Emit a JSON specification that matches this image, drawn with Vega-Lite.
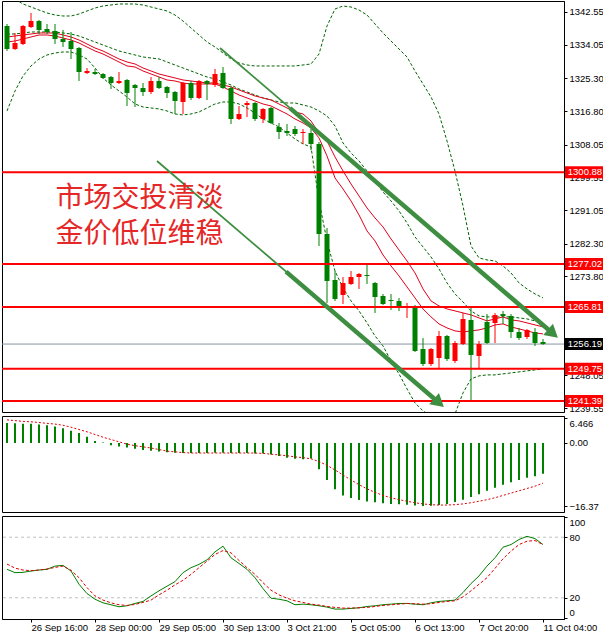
{
  "$schema": "https://vega.github.io/schema/vega-lite/v6.json",
  "background": "#ffffff",
  "padding": 0,
  "spacing": 4,
  "bounds": "flush",
  "config": {
    "view": {"stroke": "#000000", "strokeWidth": 1},
    "axis": {"labelFont": "Liberation Sans", "labelFontSize": 9.5, "labelColor": "#000000", "domainColor": "#000000", "tickColor": "#000000", "tickSize": 3, "labelPadding": 2, "grid": false},
    "text": {"font": "Liberation Sans"}
  },
  "datasets": {
    "bars": [
      {"i":0,"o":1338.91,"h":1339.43,"l":1332.41,"c":1332.93,"u":1347.49,"m":1336.83,"lo":1316.81,"f":1334.75,"s":1336.05,"macd":5.2,"sig":6.0,"k":48.2,"d":53.4},
      {"i":1,"o":1332.93,"h":1337.09,"l":1332.67,"c":1334.49,"u":1345.93,"m":1336.83,"lo":1322.01,"f":1335.01,"s":1336.31,"macd":5.1,"sig":5.8,"k":44.9,"d":49.4},
      {"i":2,"o":1334.23,"h":1339.17,"l":1333.97,"c":1338.91,"u":1344.63,"m":1337.09,"lo":1325.91,"f":1335.53,"s":1336.57,"macd":5.0,"sig":5.6,"k":45.2,"d":47.5},
      {"i":3,"o":1338.65,"h":1342.29,"l":1338.39,"c":1340.21,"u":1343.85,"m":1337.35,"lo":1328.51,"f":1336.05,"s":1336.83,"macd":5.0,"sig":5.5,"k":46.5,"d":46.8},
      {"i":4,"o":1340.21,"h":1340.47,"l":1336.83,"c":1337.87,"u":1343.07,"m":1337.35,"lo":1330.33,"f":1336.57,"s":1337.09,"macd":4.8,"sig":5.3,"k":47.5,"d":47.5},
      {"i":5,"o":1338.13,"h":1339.43,"l":1336.83,"c":1337.35,"u":1342.29,"m":1337.35,"lo":1331.37,"f":1336.57,"s":1337.09,"macd":4.6,"sig":5.1,"k":48.2,"d":48.5},
      {"i":6,"o":1337.61,"h":1339.43,"l":1334.23,"c":1335.53,"u":1341.77,"m":1337.35,"lo":1331.89,"f":1336.31,"s":1337.09,"macd":4.3,"sig":4.9,"k":51.4,"d":50.1},
      {"i":7,"o":1335.53,"h":1337.87,"l":1333.45,"c":1334.75,"u":1341.51,"m":1337.09,"lo":1332.15,"f":1335.79,"s":1336.57,"macd":3.8,"sig":4.6,"k":52.1,"d":51.4},
      {"i":8,"o":1335.01,"h":1337.35,"l":1330.33,"c":1332.93,"u":1341.51,"m":1336.83,"lo":1332.15,"f":1335.27,"s":1336.05,"macd":3.2,"sig":4.1,"k":46.5,"d":47.2},
      {"i":9,"o":1333.19,"h":1333.45,"l":1324.6,"c":1326.94,"u":1342.03,"m":1336.31,"lo":1331.37,"f":1334.49,"s":1335.27,"macd":2.6,"sig":3.5,"k":33.4,"d":39.9},
      {"i":10,"o":1326.68,"h":1327.98,"l":1326.42,"c":1327.2,"u":1342.81,"m":1335.53,"lo":1330.33,"f":1333.45,"s":1334.23,"macd":1.6,"sig":2.9,"k":24.2,"d":30.1},
      {"i":11,"o":1326.94,"h":1327.72,"l":1326.16,"c":1326.42,"u":1343.59,"m":1334.75,"lo":1327.99,"f":1332.41,"s":1333.19,"macd":0.5,"sig":2.2,"k":18.6,"d":21.9},
      {"i":12,"o":1326.42,"h":1326.68,"l":1325.12,"c":1325.38,"u":1344.11,"m":1333.97,"lo":1325.39,"f":1331.63,"s":1332.41,"macd":0.1,"sig":1.5,"k":15.0,"d":17.7},
      {"i":13,"o":1325.64,"h":1325.9,"l":1322.52,"c":1324.08,"u":1344.37,"m":1333.19,"lo":1323.57,"f":1330.59,"s":1331.37,"macd":-0.6,"sig":0.9,"k":13.1,"d":15.0},
      {"i":14,"o":1324.08,"h":1326.94,"l":1323.82,"c":1324.6,"u":1344.63,"m":1332.41,"lo":1322.01,"f":1329.55,"s":1330.33,"macd":-0.9,"sig":0.3,"k":11.1,"d":13.1},
      {"i":15,"o":1324.86,"h":1325.12,"l":1318.1,"c":1321.48,"u":1344.63,"m":1331.89,"lo":1320.45,"f":1328.51,"s":1329.55,"macd":-1.2,"sig":-0.3,"k":12.1,"d":12.4},
      {"i":16,"o":1323.56,"h":1323.82,"l":1317.84,"c":1322.78,"u":1344.63,"m":1331.37,"lo":1318.63,"f":1328.25,"s":1329.03,"macd":-1.5,"sig":-0.7,"k":14.4,"d":13.4},
      {"i":17,"o":1322.78,"h":1324.08,"l":1320.7,"c":1321.74,"u":1344.37,"m":1330.85,"lo":1317.85,"f":1327.21,"s":1327.99,"macd":-1.8,"sig":-1.0,"k":16.4,"d":15.4},
      {"i":18,"o":1321.74,"h":1325.64,"l":1321.22,"c":1324.6,"u":1343.85,"m":1330.59,"lo":1317.59,"f":1326.43,"s":1327.21,"macd":-2.0,"sig":-1.3,"k":21.9,"d":17.7},
      {"i":19,"o":1324.6,"h":1325.64,"l":1322.52,"c":1322.78,"u":1343.33,"m":1330.33,"lo":1317.33,"f":1325.65,"s":1326.43,"macd":-2.2,"sig":-1.7,"k":26.9,"d":22.9},
      {"i":20,"o":1323.04,"h":1323.3,"l":1320.18,"c":1321.48,"u":1342.81,"m":1329.55,"lo":1316.81,"f":1324.87,"s":1325.91,"macd":-2.4,"sig":-2.1,"k":31.5,"d":27.5},
      {"i":21,"o":1321.74,"h":1322.0,"l":1316.02,"c":1319.4,"u":1341.77,"m":1328.77,"lo":1316.03,"f":1324.61,"s":1325.39,"macd":-2.5,"sig":-2.3,"k":36.0,"d":32.8},
      {"i":22,"o":1319.14,"h":1324.34,"l":1316.02,"c":1324.08,"u":1340.21,"m":1327.99,"lo":1315.77,"f":1324.09,"s":1324.87,"macd":-2.6,"sig":-2.5,"k":44.9,"d":37.3},
      {"i":23,"o":1324.08,"h":1324.6,"l":1319.66,"c":1320.18,"u":1338.39,"m":1327.21,"lo":1316.03,"f":1323.83,"s":1324.61,"macd":-2.6,"sig":-2.6,"k":49.8,"d":43.2},
      {"i":24,"o":1320.18,"h":1324.86,"l":1319.92,"c":1324.6,"u":1336.57,"m":1326.43,"lo":1316.55,"f":1323.83,"s":1324.35,"macd":-2.6,"sig":-2.6,"k":53.1,"d":49.8},
      {"i":25,"o":1324.6,"h":1324.86,"l":1319.66,"c":1323.82,"u":1334.75,"m":1325.65,"lo":1317.59,"f":1323.83,"s":1324.09,"macd":-2.6,"sig":-2.6,"k":57.6,"d":56.3},
      {"i":26,"o":1323.56,"h":1327.72,"l":1323.04,"c":1326.42,"u":1333.45,"m":1325.13,"lo":1318.63,"f":1323.83,"s":1324.09,"macd":-2.5,"sig":-2.6,"k":65.5,"d":62.9},
      {"i":27,"o":1326.68,"h":1328.24,"l":1322.52,"c":1322.78,"u":1331.89,"m":1324.35,"lo":1319.15,"f":1323.05,"s":1323.57,"macd":-2.5,"sig":-2.6,"k":71.1,"d":66.8},
      {"i":28,"o":1322.78,"h":1323.3,"l":1313.42,"c":1314.72,"u":1330.33,"m":1323.57,"lo":1319.15,"f":1322.01,"s":1323.05,"macd":-2.6,"sig":-2.6,"k":59.6,"d":64.5},
      {"i":29,"o":1314.72,"h":1318.1,"l":1314.46,"c":1316.02,"u":1329.29,"m":1322.53,"lo":1318.63,"f":1320.97,"s":1322.27,"macd":-2.6,"sig":-2.6,"k":54.0,"d":57.0},
      {"i":30,"o":1318.36,"h":1319.4,"l":1315.24,"c":1318.88,"u":1328.77,"m":1321.75,"lo":1317.59,"f":1320.19,"s":1321.49,"macd":-2.6,"sig":-2.6,"k":48.2,"d":49.8},
      {"i":31,"o":1318.88,"h":1319.14,"l":1314.2,"c":1314.72,"u":1328.51,"m":1320.97,"lo":1316.29,"f":1319.41,"s":1320.71,"macd":-2.7,"sig":-2.6,"k":39.9,"d":43.2},
      {"i":32,"o":1314.72,"h":1317.58,"l":1313.68,"c":1317.32,"u":1328.51,"m":1320.19,"lo":1314.73,"f":1318.63,"s":1320.19,"macd":-2.7,"sig":-2.7,"k":29.1,"d":35.0},
      {"i":33,"o":1317.58,"h":1317.84,"l":1313.42,"c":1313.68,"u":1328.51,"m":1319.67,"lo":1313.69,"f":1318.11,"s":1319.67,"macd":-3.0,"sig":-2.9,"k":19.6,"d":27.5},
      {"i":34,"o":1312.64,"h":1313.68,"l":1309.52,"c":1311.34,"u":1328.51,"m":1319.15,"lo":1312.65,"f":1317.07,"s":1318.63,"macd":-3.4,"sig":-3.1,"k":18.6,"d":22.9},
      {"i":35,"o":1311.6,"h":1313.42,"l":1310.3,"c":1311.08,"u":1328.51,"m":1318.89,"lo":1311.09,"f":1316.03,"s":1317.59,"macd":-3.8,"sig":-3.3,"k":17.0,"d":19.6},
      {"i":36,"o":1312.12,"h":1312.9,"l":1310.3,"c":1310.82,"u":1328.51,"m":1318.89,"lo":1309.53,"f":1314.73,"s":1316.55,"macd":-4.1,"sig":-3.6,"k":13.1,"d":17.0},
      {"i":37,"o":1311.08,"h":1312.12,"l":1308.22,"c":1311.34,"u":1328.77,"m":1318.37,"lo":1308.23,"f":1313.69,"s":1316.03,"macd":-4.2,"sig":-3.8,"k":13.7,"d":15.4},
      {"i":38,"o":1311.08,"h":1312.12,"l":1306.66,"c":1308.22,"u":1329.03,"m":1317.85,"lo":1307.45,"f":1312.39,"s":1314.21,"macd":-4.0,"sig":-4.1,"k":13.1,"d":13.7},
      {"i":39,"o":1308.22,"h":1308.74,"l":1281.69,"c":1284.81,"u":1331.63,"m":1316.81,"lo":1293.41,"f":1309.79,"s":1311.09,"macd":-6.8,"sig":-4.8,"k":12.1,"d":12.8},
      {"i":40,"o":1284.81,"h":1286.37,"l":1266.87,"c":1272.59,"u":1338.91,"m":1315.51,"lo":1283.01,"f":1305.11,"s":1309.01,"macd":-9.6,"sig":-5.8,"k":10.8,"d":11.4},
      {"i":41,"o":1272.85,"h":1275.19,"l":1267.39,"c":1267.91,"u":1343.33,"m":1312.91,"lo":1275.21,"f":1299.39,"s":1304.85,"macd":-12.0,"sig":-7.0,"k":8.8,"d":10.5},
      {"i":42,"o":1268.95,"h":1273.63,"l":1266.61,"c":1272.07,"u":1344.11,"m":1308.49,"lo":1270.79,"f":1296.53,"s":1301.21,"macd":-13.6,"sig":-8.3,"k":8.8,"d":9.8},
      {"i":43,"o":1271.81,"h":1275.19,"l":1271.55,"c":1273.63,"u":1343.85,"m":1305.89,"lo":1267.41,"f":1293.41,"s":1297.83,"macd":-14.3,"sig":-9.6,"k":9.5,"d":9.8},
      {"i":44,"o":1273.63,"h":1274.67,"l":1270.51,"c":1274.41,"u":1343.07,"m":1303.81,"lo":1264.81,"f":1289.77,"s":1294.71,"macd":-14.8,"sig":-10.8,"k":10.1,"d":10.1},
      {"i":45,"o":1274.15,"h":1276.75,"l":1271.81,"c":1273.89,"u":1341.77,"m":1301.21,"lo":1261.69,"f":1285.61,"s":1291.59,"macd":-15.2,"sig":-11.9,"k":11.4,"d":10.5},
      {"i":46,"o":1272.07,"h":1272.33,"l":1264.27,"c":1268.43,"u":1339.43,"m":1298.61,"lo":1258.31,"f":1283.01,"s":1288.99,"macd":-15.4,"sig":-12.8,"k":12.1,"d":11.4},
      {"i":47,"o":1268.69,"h":1269.21,"l":1266.35,"c":1266.61,"u":1337.09,"m":1295.75,"lo":1255.71,"f":1279.37,"s":1286.65,"macd":-15.6,"sig":-13.6,"k":13.1,"d":12.4},
      {"i":48,"o":1267.65,"h":1269.21,"l":1265.05,"c":1267.39,"u":1335.01,"m":1293.41,"lo":1251.81,"f":1276.51,"s":1283.53,"macd":-15.8,"sig":-14.2,"k":13.7,"d":13.1},
      {"i":49,"o":1267.39,"h":1268.17,"l":1264.79,"c":1265.57,"u":1332.93,"m":1290.81,"lo":1248.43,"f":1273.91,"s":1280.67,"macd":-15.9,"sig":-14.7,"k":14.4,"d":13.7},
      {"i":50,"o":1265.57,"h":1266.87,"l":1262.96,"c":1266.09,"u":1330.85,"m":1287.69,"lo":1244.53,"f":1271.05,"s":1277.81,"macd":-16.0,"sig":-15.1,"k":14.4,"d":14.4},
      {"i":51,"o":1265.83,"h":1266.35,"l":1254.12,"c":1254.38,"u":1327.21,"m":1284.05,"lo":1240.89,"f":1268.19,"s":1274.69,"macd":-16.2,"sig":-15.5,"k":13.7,"d":14.1},
      {"i":52,"o":1254.9,"h":1257.76,"l":1250.48,"c":1250.99,"u":1323.83,"m":1281.45,"lo":1238.81,"f":1265.33,"s":1270.53,"macd":-16.37,"sig":-15.8,"k":13.1,"d":13.7},
      {"i":53,"o":1250.99,"h":1255.16,"l":1250.48,"c":1254.9,"u":1320.45,"m":1278.85,"lo":1237.51,"f":1263.25,"s":1267.41,"macd":-16.3,"sig":-16.0,"k":15.0,"d":14.1},
      {"i":54,"o":1252.56,"h":1259.58,"l":1249.96,"c":1258.28,"u":1316.03,"m":1275.73,"lo":1236.73,"f":1261.43,"s":1266.11,"macd":-16.1,"sig":-16.1,"k":16.4,"d":15.4},
      {"i":55,"o":1258.28,"h":1258.54,"l":1251.78,"c":1252.3,"u":1309.01,"m":1272.09,"lo":1236.73,"f":1260.39,"s":1265.33,"macd":-15.8,"sig":-16.1,"k":17.0,"d":16.4},
      {"i":56,"o":1251.78,"h":1256.98,"l":1251.26,"c":1256.46,"u":1301.21,"m":1269.23,"lo":1238.03,"f":1259.61,"s":1264.81,"macd":-15.3,"sig":-16.0,"k":17.7,"d":17.0},
      {"i":57,"o":1256.2,"h":1264.27,"l":1255.94,"c":1262.7,"u":1292.11,"m":1267.15,"lo":1243.49,"f":1259.35,"s":1264.29,"macd":-14.7,"sig":-15.8,"k":25.2,"d":20.9},
      {"i":58,"o":1262.44,"h":1265.57,"l":1241.4,"c":1253.34,"u":1281.71,"m":1264.81,"lo":1247.13,"f":1259.61,"s":1263.77,"macd":-14.0,"sig":-15.5,"k":34.1,"d":26.9},
      {"i":59,"o":1253.08,"h":1256.98,"l":1249.96,"c":1256.2,"u":1278.59,"m":1263.51,"lo":1247.91,"f":1259.87,"s":1262.99,"macd":-13.3,"sig":-15.1,"k":41.6,"d":33.4},
      {"i":60,"o":1261.92,"h":1264.0,"l":1256.2,"c":1256.46,"u":1278.07,"m":1263.25,"lo":1248.17,"f":1260.39,"s":1262.21,"macd":-12.4,"sig":-14.7,"k":51.4,"d":39.9},
      {"i":61,"o":1261.66,"h":1264.27,"l":1256.46,"c":1263.74,"u":1277.81,"m":1263.25,"lo":1248.17,"f":1261.17,"s":1262.73,"macd":-11.6,"sig":-14.2,"k":59.6,"d":49.1},
      {"i":62,"o":1264.0,"h":1264.79,"l":1261.4,"c":1263.48,"u":1276.51,"m":1263.25,"lo":1248.43,"f":1261.43,"s":1263.25,"macd":-10.8,"sig":-13.6,"k":70.1,"d":58.6},
      {"i":63,"o":1263.48,"h":1264.0,"l":1257.76,"c":1259.32,"u":1274.69,"m":1263.25,"lo":1248.69,"f":1260.65,"s":1262.47,"macd":-10.2,"sig":-13.0,"k":72.7,"d":66.2},
      {"i":64,"o":1259.32,"h":1260.36,"l":1257.24,"c":1257.76,"u":1272.09,"m":1262.99,"lo":1248.95,"f":1260.13,"s":1262.21,"macd":-9.6,"sig":-12.4,"k":77.7,"d":72.7},
      {"i":65,"o":1258.02,"h":1260.1,"l":1257.5,"c":1259.84,"u":1270.53,"m":1262.73,"lo":1249.21,"f":1259.61,"s":1261.69,"macd":-9.0,"sig":-11.8,"k":80.9,"d":76.0},
      {"i":66,"o":1259.32,"h":1260.36,"l":1255.68,"c":1256.46,"u":1269.23,"m":1262.21,"lo":1249.47,"f":1259.09,"s":1261.17,"macd":-8.6,"sig":-11.2,"k":78.6,"d":76.7},
      {"i":67,"o":1256.72,"h":1257.5,"l":1255.98,"c":1256.19,"u":1268.19,"m":1261.69,"lo":1249.73,"f":1258.83,"s":1260.65,"macd":-8.0,"sig":-10.4,"k":72.7,"d":72.7}
    ],
    "levels": [
      {"price": 1300.88, "kind": "sr"},
      {"price": 1277.02, "kind": "sr"},
      {"price": 1265.81, "kind": "sr"},
      {"price": 1249.75, "kind": "sr"},
      {"price": 1241.39, "kind": "sr"},
      {"price": 1256.19, "kind": "bid"}
    ],
    "trend": [
      {"line": "upper", "seg": "thin", "i": 26.625, "price": 1333.19},
      {"line": "upper", "seg": "thin", "i": 36.375, "price": 1315.8},
      {"line": "upper", "seg": "thick", "i": 35.375, "price": 1317.56},
      {"line": "upper", "seg": "thick", "i": 67.875, "price": 1259.58},
      {"line": "lower", "seg": "thin", "i": 18.75, "price": 1303.81},
      {"line": "lower", "seg": "thin", "i": 35.875, "price": 1273.26},
      {"line": "lower", "seg": "thick", "i": 34.875, "price": 1275.03},
      {"line": "lower", "seg": "thick", "i": 53.625, "price": 1241.57}
    ],
    "heads": [
      {"line": "upper", "i": 68.25, "price": 1258.91},
      {"line": "lower", "i": 54, "price": 1240.89}
    ],
    "notes": [
      {"i": 16.5625, "price": 1293.93, "text": "市场交投清淡"},
      {"i": 16.5625, "price": 1284.57, "text": "金价低位维稳"}
    ],
    "guides": [{"v": 80}, {"v": 20}]
  },
  "vconcat": [
    {
      "width": 562,
      "height": 411,
      "layer": [
        {
          "data": {"name": "levels"},
          "transform": [{"filter": "datum.kind == 'bid'"}],
          "mark": {"type": "rule", "color": "#8796a3", "strokeWidth": 1},
          "encoding": {
            "y": {"field": "price", "type": "quantitative", "title": null, "scale": {"domain": [1238.52, 1345.41], "nice": false, "zero": false},
              "axis": {"orient": "right", "title": null, "values": [1342.55, 1334.05, 1325.3, 1316.8, 1308.05, 1299.55, 1291.05, 1282.3, 1273.8, 1248.05, 1239.55], "tickCount": 30, "format": ".2f", "labelFlush": false, "labelOverlap": false}}
          }
        },
        {
          "data": {"name": "bars"},
          "transform": [{"fold": ["u", "m", "lo"], "as": ["band", "v"]}],
          "mark": {"type": "line", "color": "#006400", "strokeWidth": 1, "strokeDash": [3, 2], "clip": true},
          "encoding": {
            "x": {"field": "i", "type": "quantitative", "scale": {"domain": [-0.625, 69.625], "nice": false, "zero": false}, "axis": null},
            "y": {"field": "v", "type": "quantitative", "title": null, "scale": {"domain": [1238.52, 1345.41], "nice": false, "zero": false}},
            "detail": {"field": "band"}
          }
        },
        {
          "data": {"name": "bars"},
          "transform": [{"fold": ["f", "s"], "as": ["ma", "v"]}],
          "mark": {"type": "line", "color": "#e0001b", "strokeWidth": 1, "clip": true},
          "encoding": {
            "x": {"field": "i", "type": "quantitative", "scale": {"domain": [-0.625, 69.625], "nice": false, "zero": false}, "axis": null},
            "y": {"field": "v", "type": "quantitative", "title": null, "scale": {"domain": [1238.52, 1345.41], "nice": false, "zero": false}},
            "detail": {"field": "ma"}
          }
        },
        {
          "data": {"name": "bars"},
          "mark": {"type": "rule", "strokeWidth": 1, "clip": true},
          "encoding": {
            "x": {"field": "i", "type": "quantitative", "scale": {"domain": [-0.625, 69.625], "nice": false, "zero": false}, "axis": null},
            "y": {"field": "l", "type": "quantitative", "title": null, "scale": {"domain": [1238.52, 1345.41], "nice": false, "zero": false}},
            "y2": {"field": "h"},
            "color": {"condition": {"test": "datum.c > datum.o", "value": "#ff0000"}, "value": "#008000"}
          }
        },
        {
          "data": {"name": "bars"},
          "mark": {"type": "rule", "strokeWidth": 5, "strokeCap": "butt", "clip": true},
          "encoding": {
            "x": {"field": "i", "type": "quantitative", "scale": {"domain": [-0.625, 69.625], "nice": false, "zero": false}, "axis": null},
            "y": {"field": "o", "type": "quantitative", "title": null, "scale": {"domain": [1238.52, 1345.41], "nice": false, "zero": false}},
            "y2": {"field": "c"},
            "color": {"condition": {"test": "datum.c > datum.o", "value": "#ff0000"}, "value": "#008000"}
          }
        },
        {
          "data": {"name": "levels"},
          "transform": [{"filter": "datum.kind == 'sr'"}],
          "mark": {"type": "rule", "color": "#ff0000", "strokeWidth": 2},
          "encoding": {
            "y": {"field": "price", "type": "quantitative", "title": null, "scale": {"domain": [1238.52, 1345.41], "nice": false, "zero": false}}
          }
        },
        {
          "data": {"name": "trend"},
          "transform": [{"filter": "datum.seg == 'thin'"}],
          "mark": {"type": "line", "color": "#3e8e41", "strokeWidth": 1.8, "clip": false},
          "encoding": {
            "x": {"field": "i", "type": "quantitative", "scale": {"domain": [-0.625, 69.625], "nice": false, "zero": false}, "axis": null},
            "y": {"field": "price", "type": "quantitative", "title": null, "scale": {"domain": [1238.52, 1345.41], "nice": false, "zero": false}},
            "detail": {"field": "line"}
          }
        },
        {
          "data": {"name": "trend"},
          "transform": [{"filter": "datum.seg == 'thick'"}],
          "mark": {"type": "line", "color": "#3e8e41", "strokeWidth": 4.5, "clip": false},
          "encoding": {
            "x": {"field": "i", "type": "quantitative", "scale": {"domain": [-0.625, 69.625], "nice": false, "zero": false}, "axis": null},
            "y": {"field": "price", "type": "quantitative", "title": null, "scale": {"domain": [1238.52, 1345.41], "nice": false, "zero": false}},
            "detail": {"field": "line"}
          }
        },
        {
          "data": {"name": "heads"},
          "mark": {"type": "point", "shape": "triangle-right", "filled": true, "color": "#3e8e41", "opacity": 1, "size": 220, "angle": 40.6, "clip": false},
          "encoding": {
            "x": {"field": "i", "type": "quantitative", "scale": {"domain": [-0.625, 69.625], "nice": false, "zero": false}, "axis": null},
            "y": {"field": "price", "type": "quantitative", "title": null, "scale": {"domain": [1238.52, 1345.41], "nice": false, "zero": false}}
          }
        },
        {
          "data": {"name": "notes"},
          "mark": {"type": "text", "font": "Noto Sans CJK SC", "fontSize": 28, "color": "#e62727", "align": "center", "baseline": "middle"},
          "encoding": {
            "x": {"field": "i", "type": "quantitative", "scale": {"domain": [-0.625, 69.625], "nice": false, "zero": false}, "axis": null},
            "y": {"field": "price", "type": "quantitative", "title": null, "scale": {"domain": [1238.52, 1345.41], "nice": false, "zero": false}},
            "text": {"field": "text"}
          }
        },
        {
          "data": {"name": "levels"},
          "mark": {"type": "rule", "strokeWidth": 12, "strokeCap": "butt", "clip": false},
          "encoding": {
            "x": {"datum": 69.75, "type": "quantitative", "scale": {"domain": [-0.625, 69.625], "nice": false, "zero": false}, "axis": null},
            "x2": {"datum": 74.7},
            "y": {"field": "price", "type": "quantitative", "title": null, "scale": {"domain": [1238.52, 1345.41], "nice": false, "zero": false}},
            "color": {"field": "kind", "type": "nominal", "scale": {"domain": ["sr", "bid"], "range": ["#ff0000", "#000000"]}, "legend": null}
          }
        },
        {
          "data": {"name": "levels"},
          "mark": {"type": "text", "color": "#ffffff", "fontSize": 9.5, "align": "left", "baseline": "middle", "clip": false},
          "encoding": {
            "x": {"datum": 70.1, "type": "quantitative", "scale": {"domain": [-0.625, 69.625], "nice": false, "zero": false}, "axis": null},
            "y": {"field": "price", "type": "quantitative", "title": null, "scale": {"domain": [1238.52, 1345.41], "nice": false, "zero": false}},
            "text": {"field": "price", "type": "quantitative", "format": ".2f"}
          }
        }
      ]
    },
    {
      "width": 562,
      "height": 96,
      "data": {"name": "bars"},
      "layer": [
        {
          "mark": {"type": "rule", "color": "#008000", "strokeWidth": 2, "clip": true},
          "encoding": {
            "x": {"field": "i", "type": "quantitative", "scale": {"domain": [-0.625, 69.625], "nice": false, "zero": false}, "axis": null},
            "y": {"field": "macd", "type": "quantitative", "title": null, "scale": {"domain": [-17.9, 7.0], "nice": false, "zero": false},
              "axis": {"orient": "right", "title": null, "values": [6.466, 0, -16.37], "tickCount": 10, "labelExpr": "format(datum.value, datum.value > 1 ? '.3f' : '.2f')", "labelFlush": 4}},
            "y2": {"datum": 0}
          }
        },
        {
          "mark": {"type": "line", "color": "#e00000", "strokeWidth": 1, "strokeDash": [2, 2], "clip": true},
          "encoding": {
            "x": {"field": "i", "type": "quantitative", "scale": {"domain": [-0.625, 69.625], "nice": false, "zero": false}, "axis": null},
            "y": {"field": "sig", "type": "quantitative", "title": null, "scale": {"domain": [-17.9, 7.0], "nice": false, "zero": false}}
          }
        }
      ]
    },
    {
      "width": 562,
      "height": 103,
      "layer": [
        {
          "data": {"name": "guides"},
          "mark": {"type": "rule", "color": "#c0c0c0", "strokeWidth": 1, "strokeDash": [3, 3]},
          "encoding": {
            "y": {"field": "v", "type": "quantitative", "title": null, "scale": {"domain": [-1, 101], "nice": false, "zero": false}}
          }
        },
        {
          "data": {"name": "bars"},
          "mark": {"type": "line", "color": "#008000", "strokeWidth": 1, "clip": true},
          "encoding": {
            "x": {"field": "i", "type": "quantitative", "title": null, "scale": {"domain": [-0.625, 69.625], "nice": false, "zero": false},
              "axis": {"title": null, "values": [3, 11, 19, 27, 35, 43, 51, 59, 67], "tickCount": 20, "labelExpr": "['26 Sep 16:00', '28 Sep 00:00', '29 Sep 05:00', '30 Sep 13:00', '3 Oct 21:00', '5 Oct 05:00', '6 Oct 13:00', '7 Oct 20:00', '11 Oct 04:00'][(datum.value - 3) / 8]", "labelAlign": "left", "labelFlush": false, "labelOverlap": false, "tickSize": 3, "labelPadding": 0}},
            "y": {"field": "k", "type": "quantitative", "title": null, "scale": {"domain": [-1, 101], "nice": false, "zero": false},
              "axis": {"orient": "right", "title": null, "values": [100, 80, 20, 0], "tickCount": 10, "labelFlush": 4, "labelOverlap": false}}
          }
        },
        {
          "data": {"name": "bars"},
          "mark": {"type": "line", "color": "#e00000", "strokeWidth": 1, "strokeDash": [3, 2], "clip": true},
          "encoding": {
            "x": {"field": "i", "type": "quantitative", "title": null, "scale": {"domain": [-0.625, 69.625], "nice": false, "zero": false}},
            "y": {"field": "d", "type": "quantitative", "title": null, "scale": {"domain": [-1, 101], "nice": false, "zero": false}}
          }
        }
      ]
    }
  ]
}
